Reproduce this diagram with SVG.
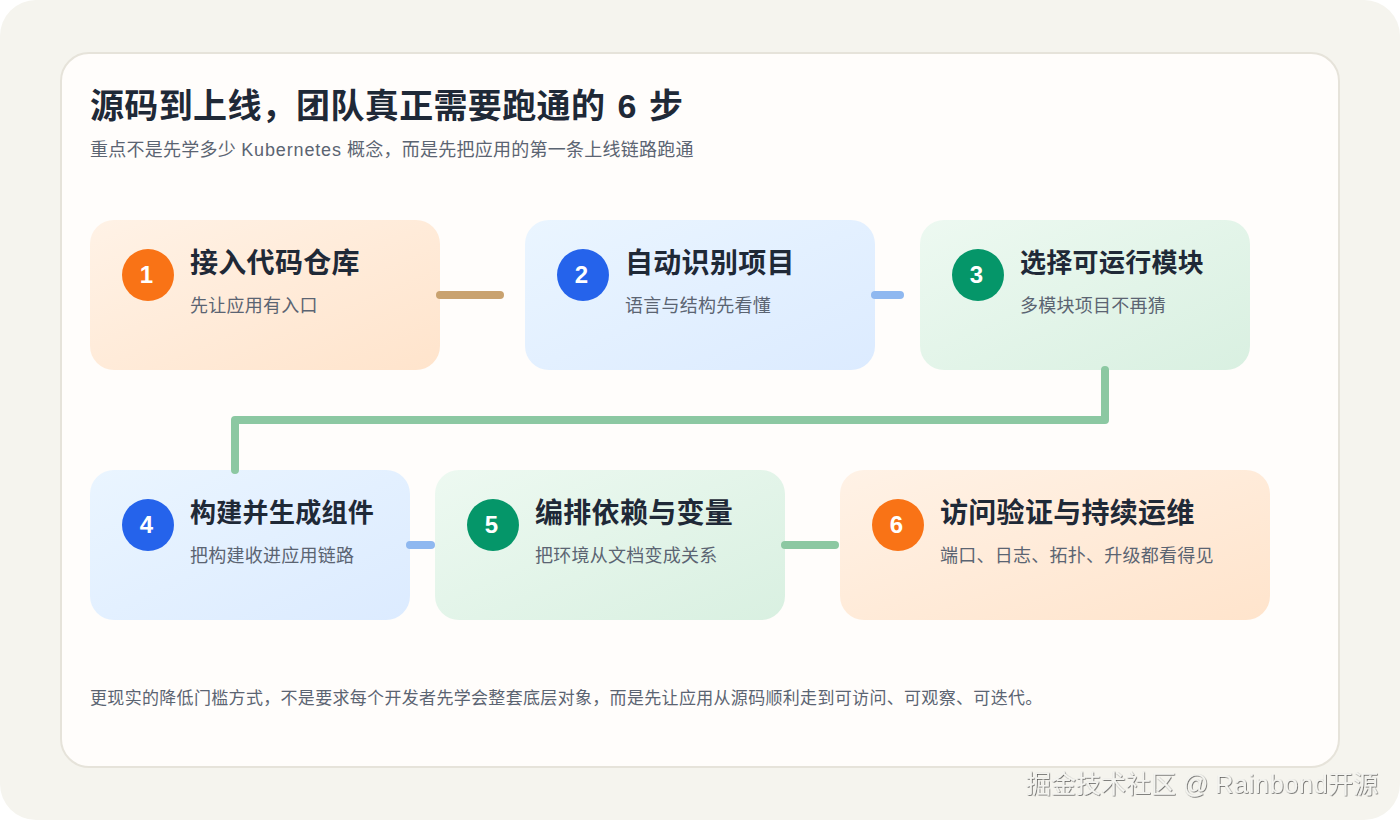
<svg xmlns="http://www.w3.org/2000/svg" width="1400" height="820" viewBox="0 0 1400 820">
<defs>
<linearGradient id="gO" x1="0" y1="0" x2="1" y2="1"><stop offset="0" stop-color="#fff2e6"/><stop offset="1" stop-color="#ffe4cc"/></linearGradient>
<linearGradient id="gB" x1="0" y1="0" x2="1" y2="1"><stop offset="0" stop-color="#eaf5ff"/><stop offset="1" stop-color="#dcebff"/></linearGradient>
<linearGradient id="gG" x1="0" y1="0" x2="1" y2="1"><stop offset="0" stop-color="#edf9f1"/><stop offset="1" stop-color="#d9f0e1"/></linearGradient>
<filter id="wm" x="-5%" y="-20%" width="110%" height="140%"><feDropShadow dx="0.7" dy="0.7" stdDeviation="0.5" flood-color="#333" flood-opacity="0.85"/></filter>
<style>
text{font-family:"Liberation Sans","Noto Sans CJK SC",sans-serif}
.t{font-size:34px;font-weight:700;fill:#1f2937;letter-spacing:.35px;word-spacing:2.5px}
.s{font-size:18px;fill:#5b6472;letter-spacing:.25px}
.h{font-size:28px;font-weight:700;fill:#1f2937;letter-spacing:.3px}
.h2{font-size:26px;font-weight:700;fill:#1f2937;letter-spacing:.3px}
.n{font-size:24px;font-weight:700;fill:#fff;text-anchor:middle}
.f{font-size:17px;fill:#5b6472;letter-spacing:.32px}
.c{fill:none;stroke-width:8;stroke-linecap:round;stroke-linejoin:round}
</style>
</defs>
<rect width="1400" height="820" rx="36" fill="#f5f4ee"/>
<rect x="61" y="53" width="1278" height="714" rx="28" fill="#fffdfb" stroke="#e6e3da" stroke-width="2"/>
<text class="t" x="90" y="118">源码到上线，团队真正需要跑通的 6 步</text>
<text class="s" x="90" y="156" style="letter-spacing:.25px">重点不是先学多少 <tspan style="letter-spacing:.85px">Kubernetes</tspan> 概念，而是先把应用的第一条上线链路跑通</text>
<g id="node1"><rect x="90" y="220" width="350" height="150" rx="24" fill="url(#gO)"/><circle cx="148" cy="275" r="26" fill="#f97316"/><text class="n" x="146.500" y="283">1</text><text class="h" x="190" y="273">接入代码仓库</text><text class="s" x="190" y="312">先让应用有入口</text></g>
<g id="node2"><rect x="525" y="220" width="350" height="150" rx="24" fill="url(#gB)"/><circle cx="583" cy="275" r="26" fill="#2563eb"/><text class="n" x="581.500" y="283">2</text><text class="h" x="625" y="273">自动识别项目</text><text class="s" x="625" y="312">语言与结构先看懂</text></g>
<g id="node3"><rect x="920" y="220" width="330" height="150" rx="24" fill="url(#gG)"/><circle cx="978" cy="275" r="26" fill="#059669"/><text class="n" x="976.500" y="283">3</text><text class="h2" x="1020" y="272">选择可运行模块</text><text class="s" x="1020" y="312">多模块项目不再猜</text></g>
<g id="node4"><rect x="90" y="470" width="320" height="150" rx="24" fill="url(#gB)"/><circle cx="148" cy="525" r="26" fill="#2563eb"/><text class="n" x="146.500" y="533">4</text><text class="h2" x="190" y="522">构建并生成组件</text><text class="s" x="190" y="562">把构建收进应用链路</text></g>
<g id="node5"><rect x="435" y="470" width="350" height="150" rx="24" fill="url(#gG)"/><circle cx="493" cy="525" r="26" fill="#059669"/><text class="n" x="491.500" y="533">5</text><text class="h" x="535" y="523">编排依赖与变量</text><text class="s" x="535" y="562">把环境从文档变成关系</text></g>
<g id="node6"><rect x="840" y="470" width="430" height="150" rx="24" fill="url(#gO)"/><circle cx="898" cy="525" r="26" fill="#f97316"/><text class="n" x="896.500" y="533">6</text><text class="h" x="940" y="523">访问验证与持续运维</text><text class="s" x="940" y="562">端口、日志、拓扑、升级都看得见</text></g>
<g id="connectors">
<path class="c" d="M440 295H500" stroke="#c9a26f"/>
<path class="c" d="M875 295H900" stroke="#8fb8f0"/>
<path class="c" d="M1105 370V420H235V470" stroke="#8cc8a2"/>
<path class="c" d="M410 545H431" stroke="#8fb8f0"/>
<path class="c" d="M785 545H835" stroke="#8cc8a2"/>
</g>
<text class="f" x="90" y="704">更现实的降低门槛方式，不是要求每个开发者先学会整套底层对象，而是先让应用从源码顺利走到可访问、可观察、可迭代。</text>
<text x="1026" y="793" font-size="25" fill="#f4f4f0" filter="url(#wm)">掘金技术社区 @ <tspan letter-spacing="0.750">Rainbond</tspan>开源</text>
</svg>
